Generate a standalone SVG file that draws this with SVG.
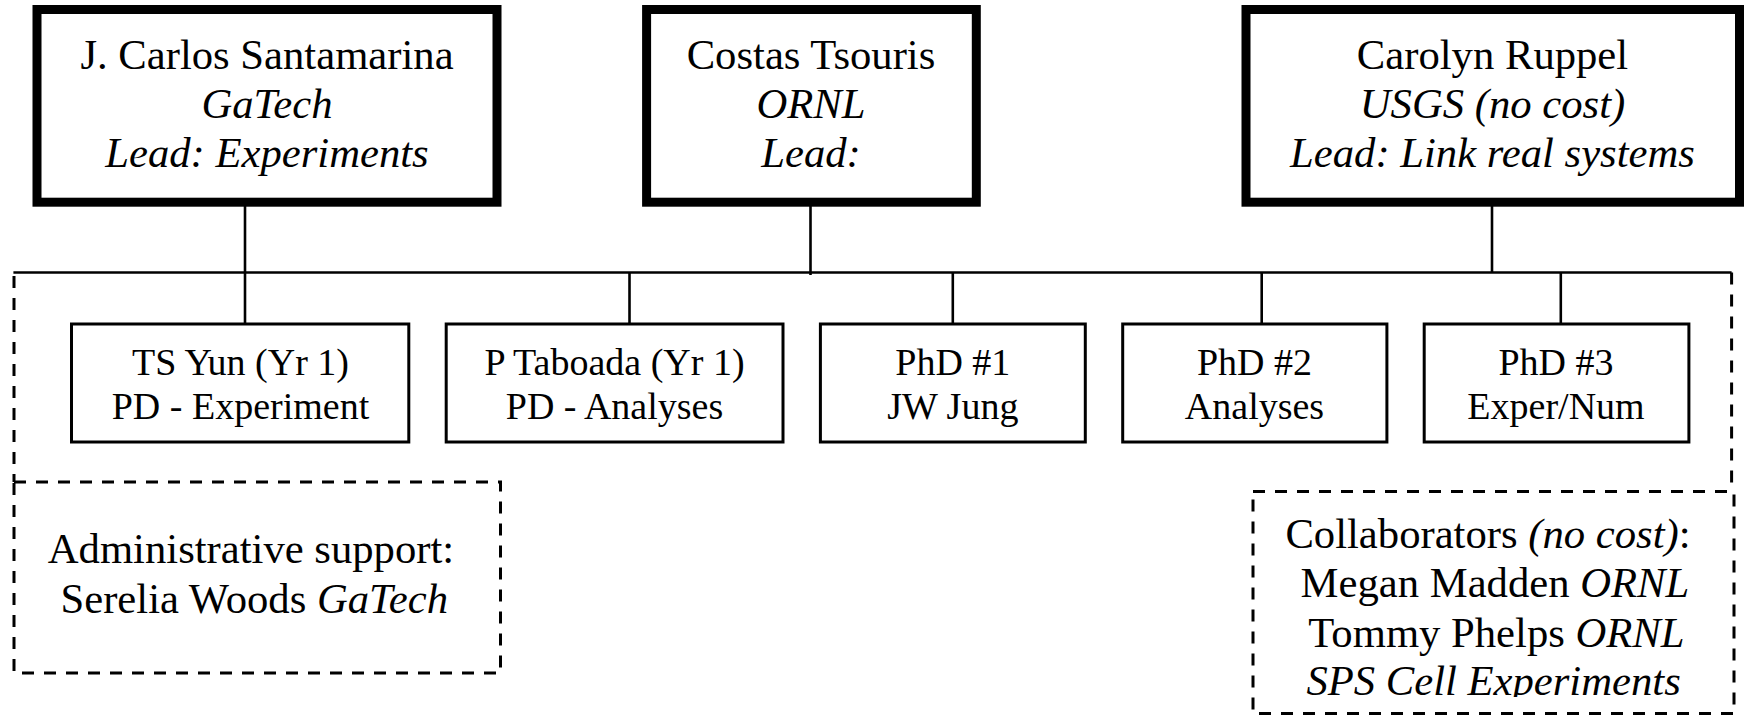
<svg xmlns="http://www.w3.org/2000/svg" width="1748" height="715" viewBox="0 0 1748 715">
<style>
.t{font-family:'Liberation Serif','Times New Roman','DejaVu Serif',serif;fill:#000}
.big{font-size:42.67px}
.small{font-size:38px}
.it{font-style:italic}
.mid{text-anchor:middle}
.lead{fill:#fff;stroke:#000;stroke-width:9}
.sub{fill:#fff;stroke:#000;stroke-width:3}
.dbox{fill:none;stroke:#000;stroke-width:3;stroke-dasharray:12 10}
.conn{fill:none;stroke:#000;stroke-width:2.6}
.dash{fill:none;stroke:#000;stroke-width:3;stroke-dasharray:12 10}
</style>
<defs>
<clipPath id="collabClip"><rect x="1250" y="480" width="490" height="217"/></clipPath>
</defs>
<rect width="1748" height="715" fill="#fff"/>
<g id="connectors">
<line class="conn" x1="13.4" y1="272.5" x2="1731.6" y2="272.5"/>
<line class="conn" x1="245" y1="206" x2="245" y2="323"/>
<line class="conn" x1="810.5" y1="206" x2="810.5" y2="275"/>
<line class="conn" x1="1492" y1="206" x2="1492" y2="272.5"/>
<line class="conn" x1="629.5" y1="272.5" x2="629.5" y2="323"/>
<line class="conn" x1="952.8" y1="272.5" x2="952.8" y2="323"/>
<line class="conn" x1="1261.7" y1="272.5" x2="1261.7" y2="323"/>
<line class="conn" x1="1560.8" y1="272.5" x2="1560.8" y2="323"/>
<line class="dash" x1="14" y1="276" x2="14" y2="482"/>
<line class="dash" x1="1731.6" y1="272.5" x2="1731.6" y2="491.5"/>
</g>
<g font-family="Liberation Serif, Times New Roman, serif">
<g id="santamarina">
<rect class="lead" x="37" y="9.5" width="460" height="192.7"/>
<text class="t big mid" x="267" y="69">J. Carlos Santamarina</text>
<text class="t big mid it" x="267" y="118">GaTech</text>
<text class="t big mid it" x="267" y="167">Lead: Experiments</text>
</g>
<g id="tsouris">
<rect class="lead" x="646.6" y="9.5" width="329.7" height="192.7"/>
<text class="t big mid" x="811" y="69">Costas Tsouris</text>
<text class="t big mid it" x="811" y="118">ORNL</text>
<text class="t big mid it" x="811" y="167">Lead:</text>
</g>
<g id="ruppel">
<rect class="lead" x="1246" y="9.5" width="493.5" height="192.7"/>
<text class="t big mid" x="1492.5" y="69">Carolyn Ruppel</text>
<text class="t big mid it" x="1492.5" y="118">USGS (no cost)</text>
<text class="t big mid it" x="1492.5" y="167">Lead: Link real systems</text>
</g>
<g id="yun">
<rect class="sub" x="71.5" y="324" width="337.3" height="118"/>
<text class="t small mid" x="240.5" y="375">TS Yun (Yr 1)</text>
<text class="t small mid" x="240.5" y="419">PD - Experiment</text>
</g>
<g id="taboada">
<rect class="sub" x="446.2" y="324" width="336.8" height="118"/>
<text class="t small mid" x="614.5" y="375">P Taboada (Yr 1)</text>
<text class="t small mid" x="614.5" y="419">PD - Analyses</text>
</g>
<g id="phd1">
<rect class="sub" x="820.4" y="324" width="264.9" height="118"/>
<text class="t small mid" x="952.8" y="375">PhD #1</text>
<text class="t small mid" x="952.8" y="419">JW Jung</text>
</g>
<g id="phd2">
<rect class="sub" x="1122.7" y="324" width="264.2" height="118"/>
<text class="t small mid" x="1254.5" y="375">PhD #2</text>
<text class="t small mid" x="1254.5" y="419">Analyses</text>
</g>
<g id="phd3">
<rect class="sub" x="1424.2" y="324" width="264.7" height="118"/>
<text class="t small mid" x="1556" y="375">PhD #3</text>
<text class="t small mid" x="1556" y="419">Exper/Num</text>
</g>
<g id="admin">
<rect class="dbox" x="14" y="482" width="486.5" height="191"/>
<text class="t big" x="47.8" y="563">Administrative support:</text>
<text class="t big" x="60.5" y="613">Serelia Woods <tspan class="it">GaTech</tspan></text>
</g>
<g id="collaborators">
<rect class="dbox" x="1253" y="491.5" width="481" height="222"/>
<g clip-path="url(#collabClip)">
<text class="t big" x="1285.4" y="548">Collaborators <tspan class="it">(no cost)</tspan>:</text>
<text class="t big" x="1300.6" y="597">Megan Madden <tspan class="it">ORNL</tspan></text>
<text class="t big" x="1308.3" y="647">Tommy Phelps <tspan class="it">ORNL</tspan></text>
<text class="t big it" x="1306.4" y="695">SPS Cell Experiments</text>
</g>
</g>
</g>
</svg>
